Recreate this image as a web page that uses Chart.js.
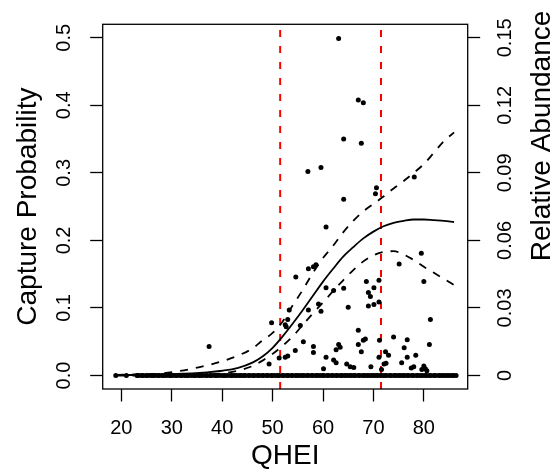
<!DOCTYPE html>
<html>
<head>
<meta charset="utf-8">
<script src="https://cdn.jsdelivr.net/npm/chart.js@4.4.1/dist/chart.umd.min.js"></script>
<style>
  html, body { margin: 0; padding: 0; background: #fff; }
</style>
</head>
<body>
<canvas id="c" width="555" height="472"></canvas>
<script>
// --- data ---
const obsX = [63.1, 67.0, 68.0, 64.1, 67.6, 57.0, 59.6, 78.1, 70.6, 70.4, 64.1, 60.6,
  79.5, 75.1, 80.0, 58.6, 58.1, 57.1, 54.6, 68.6, 71.1, 70.1, 69.0, 69.4, 60.6, 62.1,
  64.1, 69.0, 70.1, 71.1, 65.0, 59.1, 59.6, 57.1, 81.3, 53.3, 53.0, 52.5, 52.7, 49.8,
  55.5, 37.4, 67.0, 74.0, 76.7, 68.4, 68.0, 71.2, 63.1, 63.4, 62.6, 67.0, 56.1, 58.1,
  58.1, 54.5, 76.1, 81.1, 67.6, 72.4, 73.0, 71.1, 76.7, 78.4, 60.6, 62.1, 62.6, 64.7,
  65.4, 66.1, 60.1, 69.5, 72.1, 72.5, 75.6, 77.5, 78.0, 80.0, 80.3, 80.6, 71.6, 51.3,
  52.5, 53.0, 49.3, 79.6];
const obsY = [0.499, 0.408, 0.404, 0.350, 0.344, 0.302, 0.308, 0.294, 0.278, 0.269, 0.261, 0.220,
  0.181, 0.165, 0.139, 0.164, 0.161, 0.158, 0.146, 0.139, 0.141, 0.130, 0.123, 0.117, 0.130, 0.126,
  0.129, 0.103, 0.105, 0.109, 0.101, 0.106, 0.095, 0.097, 0.083, 0.097, 0.083, 0.075, 0.072, 0.078,
  0.074, 0.043, 0.067, 0.057, 0.053, 0.054, 0.052, 0.052, 0.046, 0.042, 0.038, 0.046, 0.050, 0.043,
  0.034, 0.037, 0.041, 0.046, 0.035, 0.035, 0.030, 0.027, 0.027, 0.030, 0.027, 0.023, 0.019, 0.017,
  0.013, 0.012, 0.010, 0.013, 0.017, 0.018, 0.019, 0.011, 0.013, 0.014, 0.010, 0.007, 0.009, 0.026,
  0.027, 0.029, 0.017, 0.009];

// sites with zero capture (QHEI values)
const zeroX = [18.9, 21.0, 23.1, 23.4, 24.0, 24.3, 24.9, 25.2, 25.8, 26.3, 26.6, 27.2, 27.5,
  28.1, 28.4, 28.9, 29.5, 29.8, 30.2, 30.8, 31.1, 31.7, 32.0, 32.6, 33.0, 33.3, 33.9, 34.4,
  34.7, 35.3, 35.6, 36.1, 36.7, 37.0, 37.6, 37.9, 38.5, 38.8, 39.2, 39.8, 40.3, 40.6, 41.1,
  41.7, 42.0, 42.5, 42.9, 43.4, 43.8, 44.3, 44.6, 45.2, 45.5, 46.1, 46.4, 47.0, 47.3, 47.9,
  48.2, 48.8, 49.1, 49.7, 50.0, 50.5, 51.0, 51.3, 51.9, 52.2, 52.8, 53.1, 53.7, 54.0, 54.6,
  54.9, 55.4, 55.9, 56.2, 56.8, 57.1, 57.7, 58.0, 58.6, 58.9, 59.4, 59.9, 60.2, 60.8, 61.1,
  61.7, 62.0, 62.6, 62.9, 63.5, 63.8, 64.3, 64.7, 65.2, 65.6, 66.1, 66.4, 67.0, 67.3, 67.9,
  68.2, 68.7, 69.1, 69.6, 70.0, 70.5, 70.9, 71.4, 71.8, 72.3, 72.6, 73.2, 73.5, 74.1, 74.4,
  74.9, 75.3, 75.8, 76.2, 76.7, 77.0, 77.6, 77.9, 78.5, 78.8, 79.3, 79.7, 80.2, 80.6, 81.1,
  81.4, 82.0, 82.3, 82.9, 83.2, 83.7, 84.1, 84.6, 85.0, 85.5, 85.9, 86.4];

// fitted curve and confidence band
const fitX  = [19, 22, 25, 28, 31, 34, 37, 40, 43, 46, 48, 50, 52, 54, 56, 58, 60, 62, 64, 66,
  68, 70, 72, 74, 76, 78, 80, 82, 84, 86];
const fitY  = [0.0005, 0.0007, 0.001, 0.0015, 0.0025, 0.003, 0.0045, 0.007, 0.011, 0.019, 0.028,
  0.041, 0.058, 0.077, 0.097, 0.118, 0.139, 0.158, 0.176, 0.190, 0.203, 0.213, 0.221, 0.226,
  0.229, 0.231, 0.231, 0.230, 0.229, 0.227];
const upperY = [0.001, 0.0015, 0.002, 0.003, 0.006, 0.010, 0.015, 0.021, 0.029, 0.040, 0.052,
  0.063, 0.080, 0.104, 0.127, 0.152, 0.174, 0.192, 0.212, 0.229, 0.243, 0.254, 0.265, 0.277,
  0.288, 0.300, 0.313, 0.330, 0.347, 0.360];
const lowerY = [0.0, 0.0, 0.0001, 0.0002, 0.0004, 0.0008, 0.0015, 0.003, 0.007, 0.014, 0.022,
  0.032, 0.044, 0.058, 0.075, 0.092, 0.108, 0.125, 0.141, 0.156, 0.169, 0.178, 0.183, 0.184,
  0.179, 0.171, 0.161, 0.152, 0.143, 0.134];

const thresholds = [51.5, 71.5];

const xTicks = [20, 30, 40, 50, 60, 70, 80];
const yTicks = [0, 0.1, 0.2, 0.3, 0.4, 0.5];
const yTickLabels = ['0.0', '0.1', '0.2', '0.3', '0.4', '0.5'];
const y2Ticks = [0, 0.03, 0.06, 0.09, 0.12, 0.15];
const y2TickLabels = ['0', '0.03', '0.06', '0.09', '0.12', '0.15'];

const xRange = [16.3, 88.7];
const yRange = [-0.02, 0.52];
const y2Range = [-0.006, 0.156];

// --- chart ---
const FONT = '"Liberation Sans", Arial, Helvetica, sans-serif';
Chart.defaults.font.family = FONT;
Chart.defaults.color = '#000';

const pts = (xs, ys) => xs.map((x, i) => ({ x: x, y: ys[i] }));

const curve = (ys, dash) => ({
  data: pts(fitX, ys),
  showLine: true,
  borderColor: '#000',
  borderWidth: 1.8,
  borderDash: dash,
  pointRadius: 0,
  cubicInterpolationMode: 'monotone'
});

const dots = data => ({ data: data, pointRadius: 2.5, pointBorderWidth: 0, backgroundColor: '#000', pointBackgroundColor: '#000' });

const datasets = [
  dots(pts(obsX, obsY)),
  dots(zeroX.map(x => ({ x: x, y: 0 }))),
  curve(fitY, []),
  curve(upperY, [8, 8]),
  curve(lowerY, [8, 8])
];
thresholds.forEach(t => {
  datasets.push({
    data: [{ x: t, y: yRange[0] }, { x: t, y: yRange[1] }],
    showLine: true,
    borderColor: '#ff0000',
    borderWidth: 2,
    borderDash: [7, 9],
    pointRadius: 0
  });
});

// box round the plot region, R style
const plotBox = {
  id: 'plotBox',
  afterDraw(chart) {
    const a = chart.chartArea, ctx = chart.ctx;
    ctx.save();
    ctx.strokeStyle = '#000';
    ctx.lineWidth = 1.3;
    ctx.strokeRect(a.left, a.top, a.right - a.left, a.bottom - a.top);
    ctx.restore();
  }
};

// right axis title reads bottom to top and sits high, like mtext in R
const rightTitle = {
  id: 'rightTitle',
  afterDraw(chart) {
    const ctx = chart.ctx;
    ctx.save();
    ctx.translate(550, 136);
    ctx.rotate(-Math.PI / 2);
    ctx.font = '28px ' + FONT;
    ctx.fillStyle = '#000';
    ctx.textAlign = 'center';
    ctx.textBaseline = 'alphabetic';
    ctx.fillText('Relative Abundance', 0, 0);
    ctx.restore();
  }
};

const tickGrid = { display: true, drawOnChartArea: false, drawTicks: true, tickLength: 12.5, tickColor: '#000', tickWidth: 1.3 };

new Chart(document.getElementById('c'), {
  type: 'scatter',
  data: { datasets: datasets },
  options: {
    responsive: false,
    animation: false,
    layout: { padding: { top: 12, left: 0, right: 0, bottom: 0 } },
    plugins: { legend: { display: false }, tooltip: { enabled: false } },
    scales: {
      x: {
        type: 'linear', position: 'bottom', min: xRange[0], max: xRange[1],
        grid: tickGrid,
        border: { display: false },
        afterBuildTicks: s => { s.ticks = xTicks.map(v => ({ value: v })); },
        afterFit: s => { s.height = 83; },
        ticks: { font: { size: 20 }, color: '#000', padding: 15, maxRotation: 0, autoSkip: false,
                 callback: v => String(v) },
        title: { display: true, text: 'QHEI', color: '#000', font: { size: 28, lineHeight: 1.1 }, padding: { top: 0, bottom: 0 } }
      },
      y: {
        type: 'linear', position: 'left', min: yRange[0], max: yRange[1],
        grid: tickGrid,
        border: { display: false },
        afterBuildTicks: s => { s.ticks = yTicks.map(v => ({ value: v })); },
        afterFit: s => { s.width = 102.7; },
        ticks: { font: { size: 20 }, color: '#000', padding: 12.3, minRotation: 90, maxRotation: 90,
                 crossAlign: 'center', autoSkip: false,
                 callback: (v, i) => yTickLabels[i] },
        title: { display: true, text: 'Capture Probability', color: '#000', font: { size: 28 }, padding: { top: 11.8, bottom: 0 } }
      },
      y2: {
        type: 'linear', position: 'right', min: y2Range[0], max: y2Range[1],
        grid: tickGrid,
        border: { display: false },
        afterBuildTicks: s => { s.ticks = y2Ticks.map(v => ({ value: v })); },
        afterFit: s => { s.width = 87.3; },
        ticks: { font: { size: 20 }, color: '#000', padding: 6.3, minRotation: 90, maxRotation: 90,
                 crossAlign: 'center', autoSkip: false,
                 callback: (v, i) => y2TickLabels[i] }
      }
    }
  },
  plugins: [plotBox, rightTitle]
});
</script>
</body>
</html>
